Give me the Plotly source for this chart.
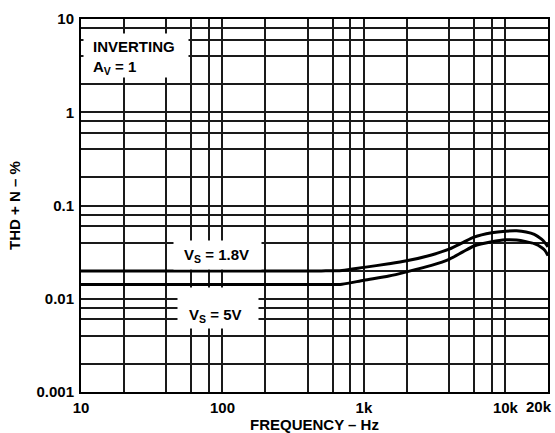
import plotly.graph_objects as go

# THD+N versus frequency, inverting unity-gain configuration
freq_hz = [10, 100, 500, 700, 1000, 1500, 2000, 3000, 4000, 5000, 6000,
           8000, 10000, 12000, 14000, 16000, 18000, 19000, 20000]
thd_vs_1v8 = [0.0199, 0.0199, 0.0199, 0.0201, 0.0217, 0.0237, 0.0255, 0.0295,
              0.0340, 0.0400, 0.0458, 0.0510, 0.0530, 0.0535, 0.0520, 0.0490,
              0.0435, 0.0400, 0.0360]
thd_vs_5v = [0.0142, 0.0142, 0.0142, 0.0143, 0.0158, 0.0175, 0.0194, 0.0228,
             0.0265, 0.0318, 0.0368, 0.0408, 0.0428, 0.0426, 0.0410, 0.0390,
             0.0355, 0.0330, 0.0290]

# grid lines: decades plus 2/4/6/8 subdivisions; only decades are labelled
x_decades = {10: "10", 100: "100", 1000: "1k", 10000: "10k"}
x_grid_vals = sorted(set(list(x_decades) +
                         [m * d for d in (10, 100, 1000) for m in (2, 4, 6, 8)]))
x_grid_text = [x_decades.get(v, "") for v in x_grid_vals]
y_decades = {0.001: "0.001", 0.01: "0.01", 0.1: "0.1", 1: "1", 10: "10"}
y_grid_vals = sorted(set(list(y_decades) +
                         [round(m * d, 6) for d in (0.001, 0.01, 0.1, 1)
                          for m in (2, 4, 6, 8)]))
y_grid_text = [y_decades.get(v, "") for v in y_grid_vals]

FONT = "Liberation Sans, Arial, Helvetica, sans-serif"
FS = 15

# plot-area pixel geometry
W, H = 555, 433
L, R, T, B = 81, 7, 19, 41
PW, PH = W - L - R, H - T - B


def px(x):
    return (x - L) / PW


def py(y):
    return (H - B - y) / PH


fig = go.Figure()
for vals in (thd_vs_1v8, thd_vs_5v):
    fig.add_trace(go.Scatter(
        x=freq_hz, y=vals, mode="lines",
        line=dict(color="black", width=3, shape="spline", smoothing=0.7),
        showlegend=False, hoverinfo="skip",
    ))

bold = dict(family=FONT, size=FS, color="black", weight="bold")
axis_common = dict(
    type="log", showline=True, linecolor="black", linewidth=2, mirror=True,
    ticks="", showgrid=True, gridcolor="#1a1a1a", gridwidth=1.5,
    tickfont=bold, zeroline=False, tickmode="array", automargin=False,
)

fig.update_xaxes(
    **axis_common,
    range=[1, 4.30103],
    tickvals=x_grid_vals, ticktext=x_grid_text, ticklabelstandoff=1,
    title=dict(text="FREQUENCY – Hz", standoff=14, font=bold),
)
fig.update_yaxes(
    **axis_common,
    range=[-3, 1],
    tickvals=y_grid_vals, ticktext=y_grid_text, ticklabelstandoff=2,
    title=dict(text="THD + N – %", standoff=12, font=bold),
)

# white label backgrounds laid over the grid, then the label texts
boxes = [(83, 33, 187, 76), (173, 240, 260, 268), (177, 287, 257, 327)]
annotations = [
    dict(text=" ", xref="paper", yref="paper", x=px(x0), y=py(y0),
         xanchor="left", yanchor="top", width=x1 - x0, height=y1 - y0,
         borderpad=0, bgcolor="white", showarrow=False)
    for x0, y0, x1, y1 in boxes
]
annotations += [
    dict(text="INVERTING<br>A<sub>V</sub> = 1", xref="paper", yref="paper",
         x=px(91), y=py(36), xanchor="left", yanchor="top", align="left",
         showarrow=False, font=bold),
    dict(text="V<sub>S</sub> = 1.8V", xref="paper", yref="paper",
         x=px(216.5), y=py(255), xanchor="center", yanchor="middle",
         showarrow=False, font=bold),
    dict(text="V<sub>S</sub> = 5V", xref="paper", yref="paper",
         x=px(215), y=py(315), xanchor="center", yanchor="middle",
         showarrow=False, font=bold),
    # right-most frequency label, kept inside the figure edge
    dict(text="20k", xref="paper", yref="paper",
         x=px(554), y=py(406), xanchor="right", yanchor="middle",
         showarrow=False, font=bold),
]

fig.update_layout(
    width=W, height=H,
    margin=dict(l=L, r=R, t=T, b=B),
    paper_bgcolor="white", plot_bgcolor="white",
    font=dict(family=FONT, size=FS, color="black"),
    annotations=annotations,
)

fig.write_html("out.html")
